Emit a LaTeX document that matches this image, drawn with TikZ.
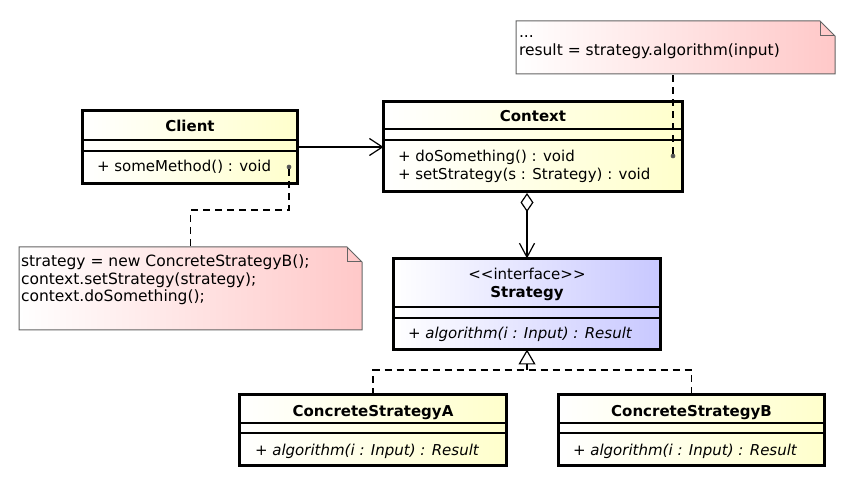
\documentclass[tikz,border=0pt]{standalone}
\usepackage{fontspec}
\setmainfont{DejaVu Sans}
\usetikzlibrary{arrows.meta,calc}
\definecolor{clsY}{RGB}{255,255,204}
\definecolor{clsB}{RGB}{200,200,255}
\definecolor{noteR}{RGB}{255,200,200}
\definecolor{noteline}{RGB}{100,100,100}
\definecolor{dotgray}{RGB}{85,85,85}
\begin{document}
\begin{tikzpicture}[x=1pt,y=-1pt,
  body/.style={font=\fontsize{15}{18}\selectfont, inner sep=0pt, outer sep=0pt},
  notetext/.style={font=\fontsize{15.5}{18}\selectfont, inner sep=0pt, outer sep=0pt},
  bold/.style={font=\fontsize{15}{18}\selectfont\bfseries, inner sep=0pt, outer sep=0pt},
  ital/.style={font=\fontsize{15}{18}\selectfont\itshape, inner sep=0pt, outer sep=0pt},
  classbox/.style={draw, line width=3pt, inner sep=0pt, outer sep=0pt, left color=white, right color=clsY},
  ifacebox/.style={draw, line width=3pt, inner sep=0pt, outer sep=0pt, left color=white, right color=clsB},
  sepline/.style={line width=1.2pt},
  noteframe/.style={inner sep=0pt, outer sep=0pt},
  noteshape/.style={draw=noteline, line width=1pt, left color=white, right color=noteR},
  conn/.style={line width=1.2pt},
  dashconn/.style={line width=1.1pt, dash pattern=on 7pt off 5pt},
  dotnode/.style={circle, fill=dotgray, draw=dotgray, line width=0.6pt, minimum size=4pt, inner sep=0pt}
]
\useasboundingbox[fill=white] (0,0) rectangle (857,494);

% ---------- Notes ----------
\node[noteframe, minimum width=343pt, minimum height=83pt] (note1) at (190.5,288.5) {};
\draw[noteshape] (note1.north west) -- ([xshift=-15pt]note1.north east) -- ([yshift=-15pt]note1.north east)
   -- (note1.south east) -- (note1.south west) -- cycle;
\draw[draw=noteline, line width=1pt] ([xshift=-15pt]note1.north east) -- ([xshift=-15pt,yshift=-15pt]note1.north east) -- ([yshift=-15pt]note1.north east);
\node[notetext, anchor=base west] (n1a) at (21,267) {strategy = new ConcreteStrategyB();};
\node[notetext, anchor=base west] (n1b) at (21,285) {context.setStrategy(strategy);};
\node[notetext, anchor=base west] (n1c) at (21,302) {context.doSomething();};

\node[noteframe, minimum width=319pt, minimum height=53pt] (note2) at (675.5,47.5) {};
\draw[noteshape] (note2.north west) -- ([xshift=-15pt]note2.north east) -- ([yshift=-15pt]note2.north east)
   -- (note2.south east) -- (note2.south west) -- cycle;
\draw[draw=noteline, line width=1pt] ([xshift=-15pt]note2.north east) -- ([xshift=-15pt,yshift=-15pt]note2.north east) -- ([yshift=-15pt]note2.north east);
\node[notetext, anchor=base west] (n2a) at (519,38) {...};
\node[notetext, anchor=base west] (n2b) at (519,56) {result = strategy.algorithm(input)};

% ---------- Client ----------
\node[classbox, minimum width=215pt, minimum height=73pt] (client) at (190,147) {};
\draw[sepline] (client.west |- 0,140) -- (client.east |- 0,140);
\draw[sepline] (client.west |- 0,151) -- (client.east |- 0,151);
\node[bold, anchor=base] (clientT) at (190,132) {Client};
\node[body, anchor=base west] (clientM) at (97,172) {+ someMethod() : void};
\node[dotnode] (cdot) at (289,167) {};

% ---------- Context ----------
\node[classbox, minimum width=299pt, minimum height=90pt] (context) at (533,146.5) {};
\draw[sepline] (context.west |- 0,129) -- (context.east |- 0,129);
\draw[sepline] (context.west |- 0,140) -- (context.east |- 0,140);
\node[bold, anchor=base] (contextT) at (533,122) {Context};
\node[body, anchor=base west] (contextM1) at (398,162) {+ doSomething() : void};
\node[body, anchor=base west] (contextM2) at (398,180) {+ setStrategy(s : Strategy) : void};
\node[dotnode] (xdot) at (673,156) {};

% ---------- Strategy ----------
\node[ifacebox, minimum width=267pt, minimum height=91pt] (strategy) at (527,304) {};
\draw[sepline] (strategy.west |- 0,307) -- (strategy.east |- 0,307);
\draw[sepline] (strategy.west |- 0,318) -- (strategy.east |- 0,318);
\node[body, anchor=base] (stereo) at (527,280) {<\kern0pt<interface>\kern0pt>};
\node[bold, anchor=base] (strategyT) at (527,298) {Strategy};
\node[ital, anchor=base west] (strategyM) at (408,338) {+ algorithm(i : Input) : Result};

% ---------- Concrete strategies ----------
\node[classbox, minimum width=267pt, minimum height=71pt] (conA) at (373,430) {};
\draw[sepline] (conA.west |- 0,423) -- (conA.east |- 0,423);
\draw[sepline] (conA.west |- 0,433) -- (conA.east |- 0,433);
\node[bold, anchor=base] (conAT) at (373,416) {ConcreteStrategyA};
\node[ital, anchor=base west] (conAM) at (255,455) {+ algorithm(i : Input) : Result};

\node[classbox, minimum width=266pt, minimum height=71pt] (conB) at (691.5,430) {};
\draw[sepline] (conB.west |- 0,423) -- (conB.east |- 0,423);
\draw[sepline] (conB.west |- 0,433) -- (conB.east |- 0,433);
\node[bold, anchor=base] (conBT) at (691.5,416) {ConcreteStrategyB};
\node[ital, anchor=base west] (conBM) at (573,455) {+ algorithm(i : Input) : Result};

% ---------- Connectors ----------
\draw[conn, -{Straight Barb[length=13pt,width=17pt]}] (client.east) -- (client.east -| context.west);
\draw[conn, {Diamond[open,length=19pt,width=13pt]}-{Straight Barb[length=14pt,width=15pt]}]
   ([yshift=-1.5pt]strategy.north |- context.south) -- (strategy.north);
\coordinate (rj) at (strategy.south |- 0,370);
\draw[dashconn] (conA.north) |- (rj) -| (conB.north);
\draw[conn, -{Triangle[open,length=15pt,width=17pt]}] (rj) -- (strategy.south);
\draw[dashconn] (cdot) -- (cdot |- 0,210) -| (note1.north);
\draw[dashconn] (xdot) -- (xdot |- note2.south);
\end{tikzpicture}
\end{document}
